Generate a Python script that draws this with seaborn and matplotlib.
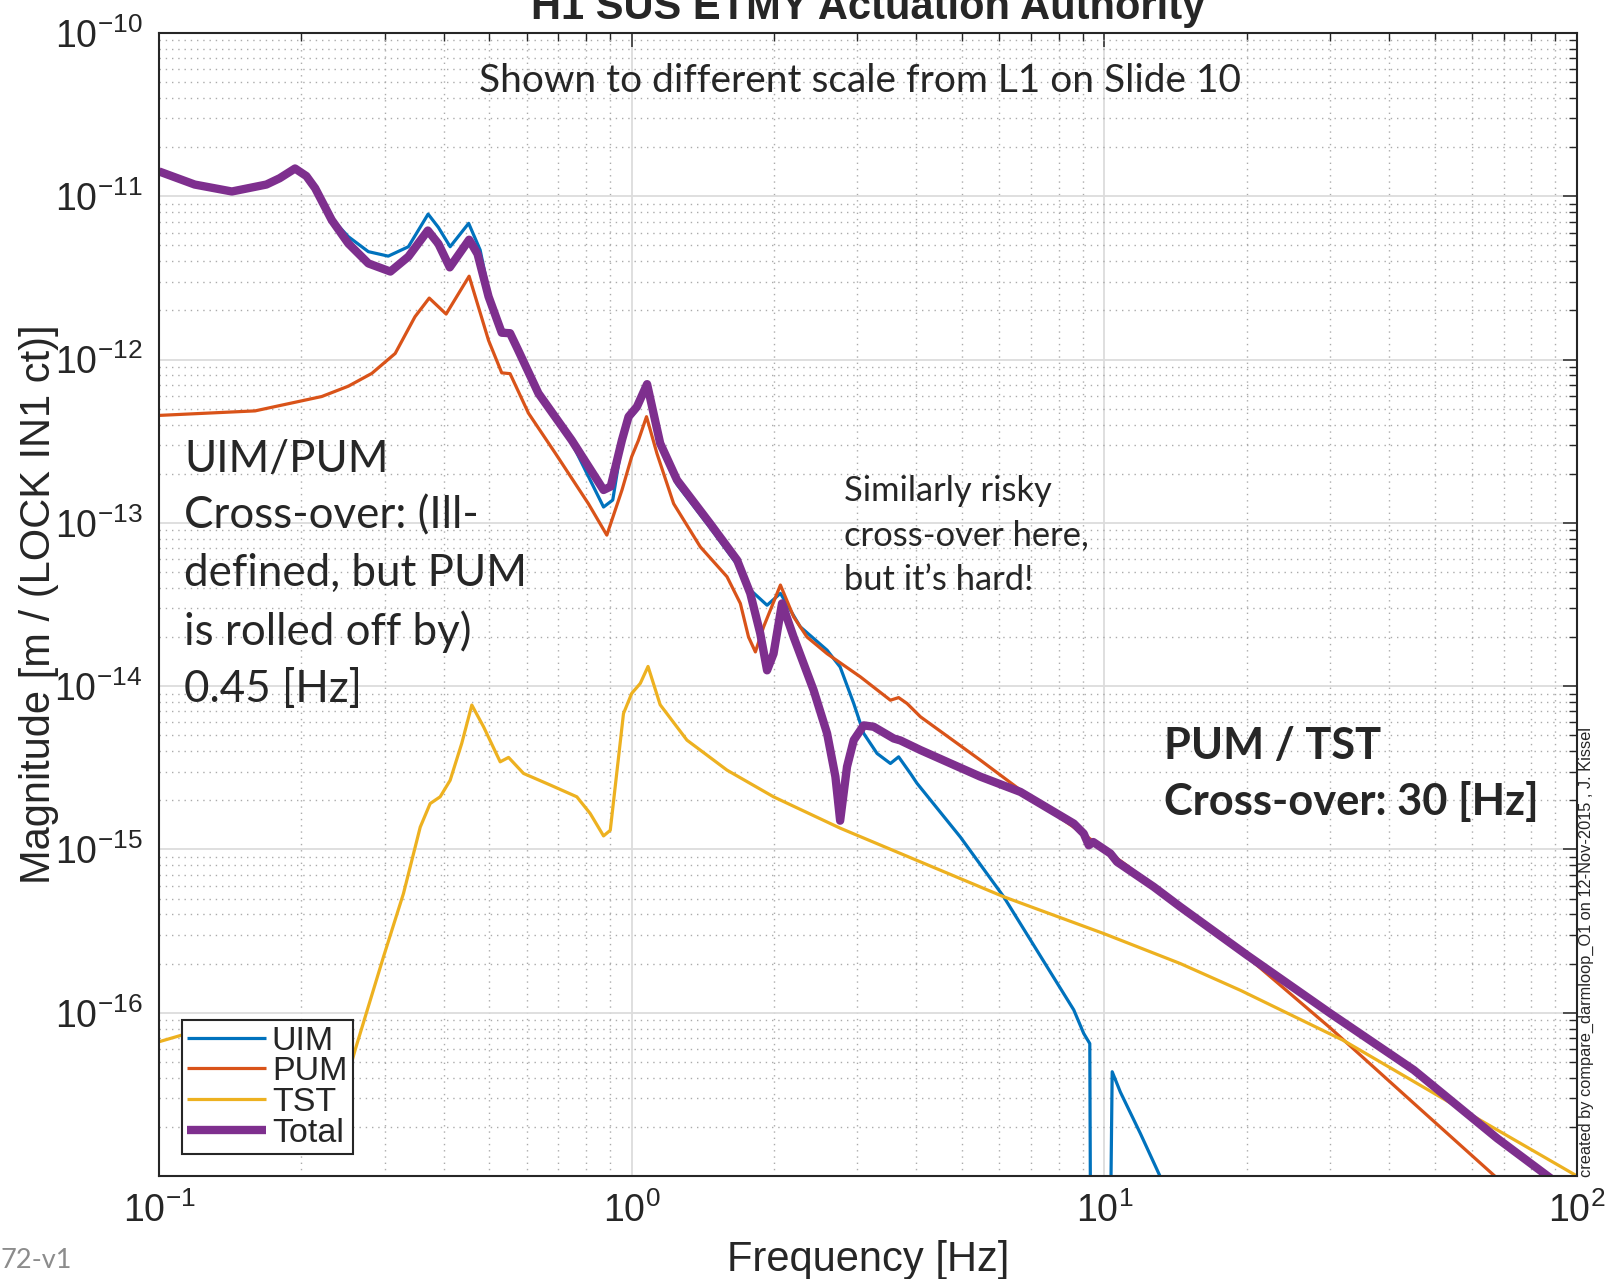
import numpy as np
import pandas as pd
import matplotlib
matplotlib.use("Agg")
import matplotlib.pyplot as plt
import seaborn as sns
from matplotlib.ticker import LogLocator, FuncFormatter, NullFormatter

# ---------------- data: actuation strength per stage [m / ct] ----------------
uim_freq = [0.1, 0.119, 0.1426, 0.1687, 0.18, 0.194, 0.205, 0.214, 0.232, 0.2515,
            0.2773, 0.3055, 0.337, 0.371, 0.390, 0.413, 0.452, 0.478, 0.501, 0.531,
            0.553, 0.573, 0.636, 0.7466, 0.872, 0.912, 0.954, 0.985, 1.026, 1.078,
            1.149, 1.247, 1.465, 1.671, 1.753, 1.934, 2.064, 2.273, 2.591, 2.761,
            2.950, 3.097, 3.305, 3.527, 3.671, 3.888, 4.015, 4.96, 6.125, 8.617,
            9.045, 9.316, 9.40, 10.15, 10.39, 10.81, 11.92, 13.11, 13.5]
uim_mag = [1.42e-11, 1.18e-11, 1.07e-11, 1.18e-11, 1.29e-11, 1.48e-11, 1.33e-11, 1.12e-11, 7.3e-12, 5.66e-12,
           4.58e-12, 4.30e-12, 4.91e-12, 7.78e-12, 6.45e-12, 4.91e-12, 6.83e-12, 4.69e-12, 2.41e-12, 1.52e-12,
           1.49e-12, 1.21e-12, 6.03e-13, 3.10e-13, 1.25e-13, 1.38e-13, 3.10e-13, 4.27e-13, 4.9e-13, 6.77e-13,
           2.89e-13, 1.72e-13, 9.35e-14, 5.56e-14, 4.06e-14, 3.13e-14, 3.70e-14, 2.31e-14, 1.66e-14, 1.31e-14,
           7.83e-15, 5.13e-15, 3.87e-15, 3.36e-15, 3.69e-15, 2.92e-15, 2.54e-15, 1.19e-15, 5.13e-16, 1.04e-16,
           7.46e-17, 6.47e-17, 1e-19, 1e-19, 4.35e-17, 3.27e-17, 1.82e-17, 1e-17, 8e-18]

pum_freq = [0.1, 0.1597, 0.221, 0.2515, 0.282, 0.316, 0.348, 0.373, 0.405, 0.453,
            0.498, 0.531, 0.553, 0.605, 0.690, 0.810, 0.886, 0.954, 1.0, 1.033,
            1.075, 1.131, 1.227, 1.397, 1.591, 1.698, 1.767, 1.827, 1.902, 2.064,
            2.201, 2.349, 2.591, 3.047, 3.527, 3.671, 3.825, 4.083, 5.468, 6.645,
            8.903, 11.17, 14.48, 20.05, 30.1, 45.2, 67.7]
pum_mag = [4.55e-13, 4.85e-13, 5.94e-13, 6.87e-13, 8.23e-13, 1.09e-12, 1.83e-12, 2.38e-12, 1.90e-12, 3.24e-12,
           1.31e-12, 8.29e-13, 8.2e-13, 4.69e-13, 2.66e-13, 1.31e-13, 8.41e-14, 1.59e-13, 2.54e-13, 3.19e-13,
           4.47e-13, 2.66e-13, 1.31e-13, 7.13e-14, 4.68e-14, 3.21e-14, 2.0e-14, 1.62e-14, 2.31e-14, 4.16e-14,
           2.66e-14, 2.0e-14, 1.58e-14, 1.14e-14, 8.20e-15, 8.51e-15, 7.83e-15, 6.49e-15, 3.52e-15, 2.31e-15,
           1.28e-15, 7.96e-16, 4.4e-16, 2.20e-16, 8.04e-17, 2.78e-17, 9.72e-18]

tst_freq = [0.1, 0.1117, 0.125, 0.1453, 0.191, 0.230, 0.260, 0.2985, 0.329, 0.357,
            0.3747, 0.3934, 0.413, 0.437, 0.459, 0.486, 0.527, 0.549, 0.5905, 0.6726,
            0.7656, 0.817, 0.872, 0.901, 0.961, 1.0, 1.043, 1.083, 1.149, 1.309,
            1.591, 1.996, 2.761, 4.083, 6.125, 9.98, 14.48, 19.42, 32.0, 55.2, 100]
tst_mag = [6.64e-17, 7.29e-17, 7.89e-17, 6.35e-17, 3.83e-17, 1.68e-17, 5.92e-17, 2.20e-16, 5.37e-16, 1.37e-15,
           1.91e-15, 2.10e-15, 2.65e-15, 4.46e-15, 7.66e-15, 5.64e-15, 3.44e-15, 3.66e-15, 2.92e-15, 2.48e-15,
           2.10e-15, 1.66e-15, 1.21e-15, 1.31e-15, 6.80e-15, 9.02e-15, 1.04e-14, 1.32e-14, 7.69e-15, 4.67e-15,
           3.06e-15, 2.10e-15, 1.35e-15, 8.39e-16, 5.13e-16, 3.05e-16, 2.0e-16, 1.37e-16, 6.78e-17, 2.70e-17, 1e-17]

total_freq = [0.1, 0.119, 0.1426, 0.1687, 0.18, 0.194, 0.205, 0.214, 0.232, 0.2515,
              0.2773, 0.3087, 0.337, 0.3705, 0.390, 0.4122, 0.453, 0.472, 0.498, 0.531,
              0.553, 0.573, 0.635, 0.7466, 0.872, 0.903, 0.9537, 0.985, 1.026, 1.078,
              1.149, 1.247, 1.465, 1.671, 1.782, 1.871, 1.934, 1.996, 2.080, 2.201,
              2.426, 2.591, 2.698, 2.761, 2.855, 2.950, 3.097, 3.251, 3.584, 3.702,
              4.083, 5.468, 6.645, 8.617, 9.045, 9.27, 9.475, 10.3, 10.64, 12.72,
              14.48, 20.05, 30.1, 45.2, 67.8, 87.8, 95.0]
total_mag = [1.42e-11, 1.18e-11, 1.07e-11, 1.18e-11, 1.29e-11, 1.48e-11, 1.33e-11, 1.12e-11, 7.15e-12, 5.14e-12,
             3.88e-12, 3.46e-12, 4.27e-12, 6.17e-12, 5.12e-12, 3.67e-12, 5.42e-12, 4.43e-12, 2.43e-12, 1.46e-12,
             1.45e-12, 1.17e-12, 6.21e-13, 3.21e-13, 1.59e-13, 1.67e-13, 3.21e-13, 4.47e-13, 5.14e-13, 7.07e-13,
             3.07e-13, 1.83e-13, 9.91e-14, 5.92e-14, 3.70e-14, 2.10e-14, 1.25e-14, 1.58e-14, 3.21e-14, 2.0e-14,
             9.45e-15, 5.13e-15, 2.79e-15, 1.50e-15, 3.21e-15, 4.67e-15, 5.75e-15, 5.64e-15, 4.78e-15, 4.65e-15,
             4.06e-15, 2.79e-15, 2.25e-15, 1.44e-15, 1.25e-15, 1.06e-15, 1.11e-15, 9.44e-16, 8.39e-16, 5.90e-16,
             4.45e-16, 2.25e-16, 9.89e-17, 4.45e-17, 1.70e-17, 9.72e-18, 8.2e-18]

series_names = ["UIM", "PUM", "TST", "Total"]
series_colors = ["#0072BD", "#D95319", "#EDB120", "#7E2F8E"]
series_widths = [2.3, 2.3, 2.3, 6.0]

x_ticks = [0.1, 1, 10, 100]
y_ticks = [1e-17, 1e-16, 1e-15, 1e-14, 1e-13, 1e-12, 1e-11, 1e-10]

frames = []
for name, f, m in zip(series_names,
                      [uim_freq, pum_freq, tst_freq, total_freq],
                      [uim_mag, pum_mag, tst_mag, total_mag]):
    frames.append(pd.DataFrame({"freq": f, "mag": m, "stage": name}))
data = pd.concat(frames, ignore_index=True)

# ---------------- style ----------------
sns.set_style("white")
plt.rcParams.update({
    "font.family": ["Liberation Sans", "DejaVu Sans"],
    "mathtext.default": "regular",
    "axes.unicode_minus": False,
    "axes.edgecolor": "#262626",
    "axes.linewidth": 1.5,
    "xtick.color": "#262626",
    "ytick.color": "#262626",
})

W, H = 1606, 1279
fig = plt.figure(figsize=(W / 100, H / 100), dpi=100)
ax_l, ax_r, ax_t, ax_b = 159, 1577, 33, 1176
ax = fig.add_axes([ax_l / W, 1 - ax_b / H, (ax_r - ax_l) / W, (ax_b - ax_t) / H])

for name, color, lw in zip(series_names, series_colors, series_widths):
    sns.lineplot(data=data[data["stage"] == name], x="freq", y="mag", ax=ax,
                 color=color, linewidth=lw, label=name, estimator=None, sort=False,
                 solid_joinstyle="round", solid_capstyle="butt")

ax.set_xscale("log")
ax.set_yscale("log")
ax.set_xlim(0.1, 100)
ax.set_ylim(1e-17, 1e-10)

ax.xaxis.set_minor_locator(LogLocator(base=10, subs=np.arange(2, 10), numticks=100))
ax.yaxis.set_minor_locator(LogLocator(base=10, subs=np.arange(2, 10), numticks=100))
ax.set_xticks(x_ticks)
ax.set_yticks(y_ticks)


def decade_label(v, pos):
    e = int(round(np.log10(v)))
    if e == -17:
        return ""
    return r"$\mathdefault{10^{%d}}$" % e


ax.xaxis.set_major_formatter(FuncFormatter(decade_label))
ax.yaxis.set_major_formatter(FuncFormatter(decade_label))
ax.xaxis.set_minor_formatter(NullFormatter())
ax.yaxis.set_minor_formatter(NullFormatter())

ax.tick_params(which="both", direction="in", top=True, right=True, labelsize=27)
ax.tick_params(which="major", length=10, width=1.1, pad=12)
ax.tick_params(which="minor", length=5.5, width=1.0)

ax.set_axisbelow(True)
ax.grid(which="major", color="#dcdcdc", linestyle="-", linewidth=1.3)
ax.grid(which="minor", color="#ababab", linestyle=(0, (1, 3.5)), linewidth=1.0)

ax.set_xlabel("Frequency [Hz]", fontsize=30, va="baseline")
ax.xaxis.set_label_coords(0.5, -0.0831)
ax.set_ylabel("Magnitude [m / (LOCK IN1 ct)]", fontsize=30, va="baseline")
ax.yaxis.set_label_coords(-0.0769, 0.5)

fig.text((ax_l + ax_r) / 2 / W, 1 - 19 / H, "H1 SUS ETMY Actuation Authority",
         ha="center", va="baseline", fontsize=30, fontweight="bold")

leg = ax.legend(loc="lower left", bbox_to_anchor=(0.0162, 0.0192), borderaxespad=0,
                frameon=True, fancybox=False, edgecolor="#262626", framealpha=1,
                facecolor="white", fontsize=24.5, handlelength=2.3, handletextpad=0.18,
                borderpad=0.16, labelspacing=-0.01)
leg.get_frame().set_linewidth(1.5)

note_font = ["Lato", "DejaVu Sans"]
ax.text(0.2257, 0.9484, "Shown to different scale from L1 on Slide 10",
        transform=ax.transAxes, ha="left", va="baseline", fontsize=28, family=note_font)
# multi-line notes are anchored on the baseline of their last line
ax.text(0.0176, 0.4150,
        "UIM/PUM\nCross-over: (Ill-\ndefined, but PUM\nis rolled off by)\n0.45 [Hz]",
        transform=ax.transAxes, ha="left", va="baseline", fontsize=31.6,
        family=note_font, linespacing=1.48)
ax.text(0.4831, 0.5127, "Similarly risky\ncross-over here,\nbut it\u2019s hard!",
        transform=ax.transAxes, ha="left", va="baseline", fontsize=24.8,
        family=note_font, linespacing=1.48)
ax.text(0.7088, 0.3158, "PUM / TST\nCross-over: 30 [Hz]",
        transform=ax.transAxes, ha="left", va="baseline", fontsize=31.2,
        family=note_font, fontweight="bold", linespacing=1.43)

fig.text(1586 / W, 1 - 1177 / H,
         "created by compare_darmloop_O1 on 12-Nov-2015 , J. Kissel",
         rotation=90, ha="center", va="bottom", fontsize=11.8)
fig.text(0.0, 1 - 1268 / H, "72-v1", ha="left", va="baseline", fontsize=19.5,
         color="#8c8c8c", family=note_font)

fig.savefig("out.png", dpi=100)
